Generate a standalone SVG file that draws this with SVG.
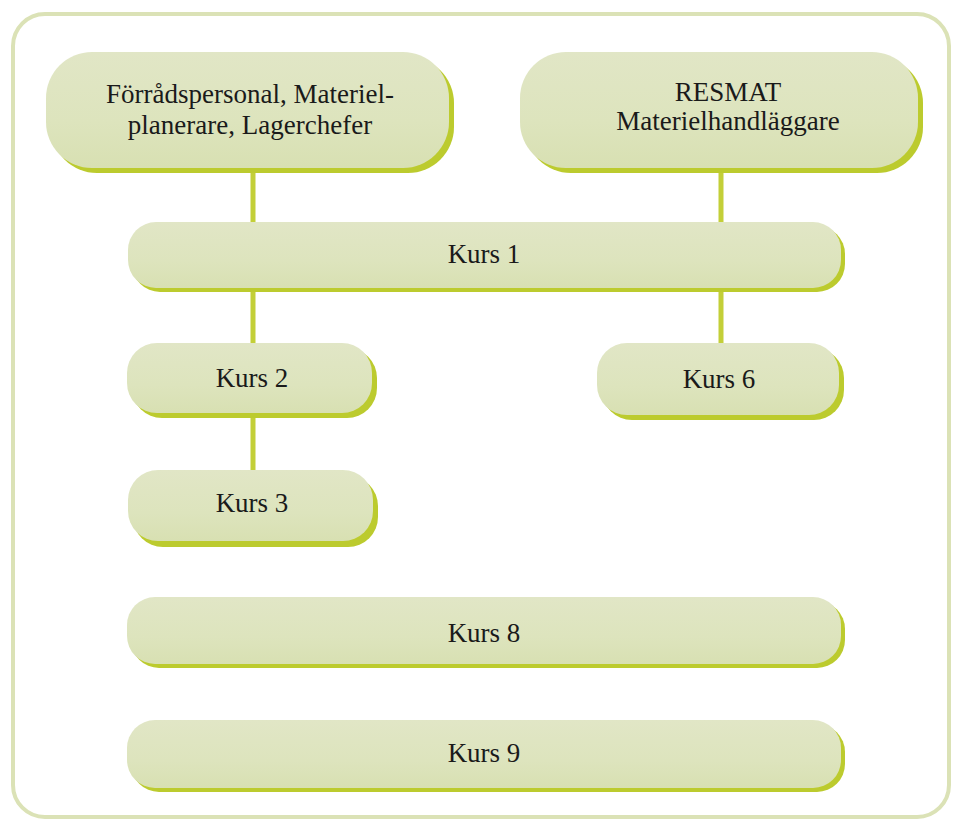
<svg xmlns="http://www.w3.org/2000/svg" width="959" height="825" viewBox="0 0 959 825">
<defs>
<linearGradient id="fill" x1="0" y1="0" x2="0" y2="1">
<stop offset="0" stop-color="#e1e6c6"/>
<stop offset="0.6" stop-color="#dde4bd"/>
<stop offset="1" stop-color="#d8e0b2"/>
</linearGradient>
<style>
.sh{fill:#bccb2e}
.bd{fill:url(#fill)}
.t{font-family:"Liberation Serif","Times New Roman",serif;font-size:27px;fill:#1a1a1a;text-anchor:middle}
.c{stroke:#c3cf38;stroke-width:5;fill:none}
</style>
</defs>
<rect x="0" y="0" width="959" height="825" fill="#ffffff"/>
<rect id="frame" x="13" y="14" width="936" height="803" rx="32" fill="none" stroke="#dbe2b6" stroke-width="4"/>
<g id="connectors">
<line class="c" x1="253" y1="165" x2="253" y2="472"/>
<line class="c" x1="721" y1="165" x2="721" y2="345"/>
</g>
<g id="n1">
<rect class="sh" x="51" y="57" width="403" height="116" rx="46"/>
<rect class="bd" x="46" y="52" width="403" height="116" rx="46"/>
<text class="t" x="250" y="103">Förrådspersonal, Materiel-</text>
<text class="t" x="250" y="134">planerare, Lagerchefer</text>
</g>
<g id="n2">
<rect class="sh" x="525" y="57" width="398" height="116" rx="46"/>
<rect class="bd" x="520" y="52" width="398" height="116" rx="46"/>
<text class="t" x="728" y="101">RESMAT</text>
<text class="t" x="728" y="130">Materielhandläggare</text>
</g>
<g id="kurs1">
<rect class="sh" x="132" y="226" width="713" height="66" rx="28"/>
<rect class="bd" x="128" y="222" width="713" height="66" rx="28"/>
<text class="t" x="484" y="263">Kurs 1</text>
</g>
<g id="kurs2">
<rect class="sh" x="132" y="348" width="245" height="70" rx="30"/>
<rect class="bd" x="127" y="343" width="245" height="70" rx="30"/>
<text class="t" x="252" y="387">Kurs 2</text>
</g>
<g id="kurs6">
<rect class="sh" x="602" y="348" width="242" height="72" rx="30"/>
<rect class="bd" x="597" y="343" width="242" height="72" rx="30"/>
<text class="t" x="719" y="388">Kurs 6</text>
</g>
<g id="kurs3">
<rect class="sh" x="133" y="476" width="245" height="71" rx="30"/>
<rect class="bd" x="128" y="470" width="245" height="71" rx="30"/>
<text class="t" x="252" y="512">Kurs 3</text>
</g>
<g id="kurs8">
<rect class="sh" x="131" y="601" width="714" height="67" rx="28"/>
<rect class="bd" x="127" y="597" width="714" height="67" rx="28"/>
<text class="t" x="484" y="642">Kurs 8</text>
</g>
<g id="kurs9">
<rect class="sh" x="131" y="724" width="714" height="68" rx="28"/>
<rect class="bd" x="127" y="720" width="714" height="68" rx="28"/>
<text class="t" x="484" y="762">Kurs 9</text>
</g>
</svg>
